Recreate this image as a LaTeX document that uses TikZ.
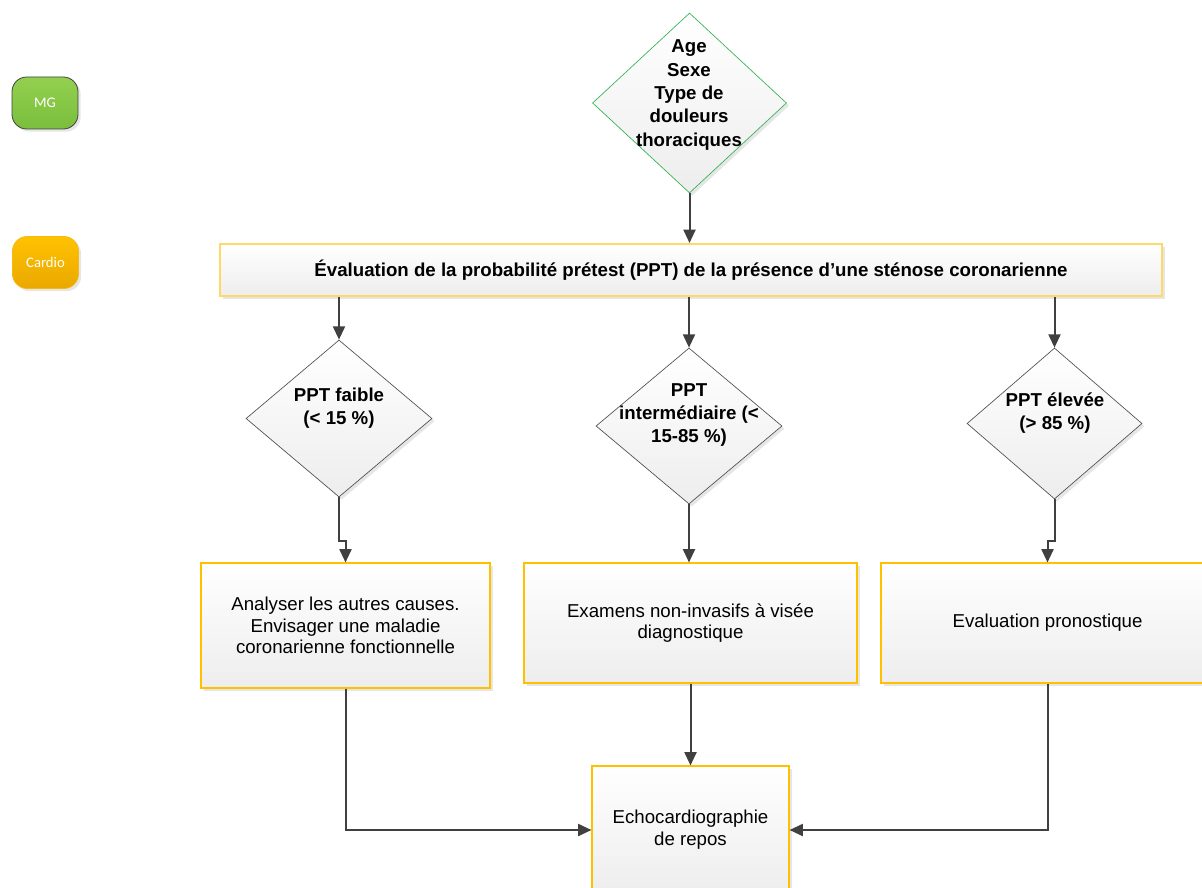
\documentclass[tikz,border=0pt]{standalone}
\usepackage{fontspec}
\setmainfont{Liberation Sans}
\newfontfamily\calib{Carlito}
\usetikzlibrary{shapes.geometric,arrows.meta,shadows,calc}

\definecolor{linegrey}{RGB}{64,64,64}
\definecolor{edgegrey}{RGB}{80,80,80}
\definecolor{greenedge}{RGB}{50,180,80}
\definecolor{paleyellow}{RGB}{255,217,102}
\definecolor{gold}{RGB}{255,192,0}
\definecolor{mgtop}{RGB}{148,208,80}
\definecolor{mgbot}{RGB}{122,190,60}
\definecolor{cdtop}{RGB}{255,194,0}
\definecolor{cdbot}{RGB}{234,168,0}
\definecolor{cdedge}{RGB}{245,185,20}

\tikzset{
  softshadow/.style={drop shadow={shadow xshift=2pt,shadow yshift=-2pt,fill=black!12,opacity=0.8}},
  grad/.style={top color=white,bottom color=black!7},
  decision/.style={diamond,inner sep=0pt,grad,softshadow,draw=edgegrey,line width=0.5pt},
  stepbox/.style={rectangle,inner sep=0pt,grad,softshadow,draw=gold,line width=0.8pt},
  boldtext/.style={align=center,font=\fontsize{14pt}{17.5pt}\selectfont\bfseries},
  plaintext/.style={align=center,font=\fontsize{14pt}{16.3pt}\selectfont},
  role/.style={rectangle,rounded corners=11pt,inner sep=0pt,minimum width=49.5pt,minimum height=39pt,
    text=white,font=\calib\fontsize{11pt}{13pt}\selectfont,softshadow},
  arr/.style={draw=linegrey,line width=1.5pt,-{Triangle[length=10pt,width=9pt]}},
}

\begin{document}
\begin{tikzpicture}[x=0.75pt,y=-0.75pt]
\useasboundingbox (0,0) rectangle (1202,888);

% role legend
\node[role,top color=mgtop,bottom color=mgbot,draw=linegrey,line width=0.6pt] (mg) at (45,103) {MG};
\node[role,top color=cdtop,bottom color=cdbot,draw=cdedge,line width=0.6pt] (cardio) at (45.5,262.5) {Cardio};

% entry criteria
\node[decision,draw=greenedge,minimum width=145.5pt,minimum height=135pt] (crit) at (689.5,103) {};
\node[boldtext] (crittxt) at (689,95) {Age\\Sexe\\Type de\\douleurs\\thoraciques};

% pretest probability
\node[stepbox,draw=paleyellow,line width=1.5pt,minimum width=706.5pt,minimum height=39pt,boldtext] (ppt) at (691,270)
  {Évaluation de la probabilité prétest (PPT) de la présence d’une sténose coronarienne};

% probability classes
\node[decision,minimum width=139.5pt,minimum height=117.75pt] (d1) at (339,418.5) {};
\node[boldtext] (d1txt) at (339,408) {PPT faible\\(< 15 \%)};
\node[decision,minimum width=139.5pt,minimum height=117pt] (d2) at (689,426) {};
\node[boldtext] (d2txt) at (689,415) {PPT\\intermédiaire (<\\15-85 \%)};
\node[decision,minimum width=131.25pt,minimum height=113.25pt] (d3) at (1054.5,423.5) {};
\node[boldtext] (d3txt) at (1055,413) {PPT élevée\\(> 85 \%)};

% actions
\node[stepbox,plaintext,minimum width=216.75pt,minimum height=93.75pt] (b1) at (345.5,625.5)
  {Analyser les autres causes.\\Envisager une maladie\\coronarienne fonctionnelle};
\node[stepbox,plaintext,minimum width=249.75pt,minimum height=90pt] (b2) at (690.5,623)
  {Examens non-invasifs à visée\\diagnostique};
\node[stepbox,plaintext,minimum width=249.75pt,minimum height=90pt] (b3) at (1047.5,623)
  {Evaluation pronostique};

% common outcome
\node[stepbox,plaintext,minimum width=147.75pt,minimum height=96pt] (echo) at (690.5,830)
  {Echocardiographie\\de repos};

% connectors
\draw[arr] (crit.south) -- (crit.south |- ppt.north);
\draw[arr] (ppt.south -| d1.north) -- (d1.north);
\draw[arr] (ppt.south -| d2.north) -- (d2.north);
\draw[arr] (ppt.south -| d3.north) -- (d3.north);
\draw[arr] (d1.south) |- ([yshift=15.75pt]b1.north) -- (b1.north);
\draw[arr] (d2.south) -- (d2.south |- b2.north);
\draw[arr] (d3.south) |- ([yshift=15.75pt]b3.north) -- (b3.north);
\draw[arr] (b1.south) |- (echo.west);
\draw[arr] (b2.south) -- (echo.north);
\draw[arr] (b3.south) |- (echo.east);
\end{tikzpicture}
\end{document}
